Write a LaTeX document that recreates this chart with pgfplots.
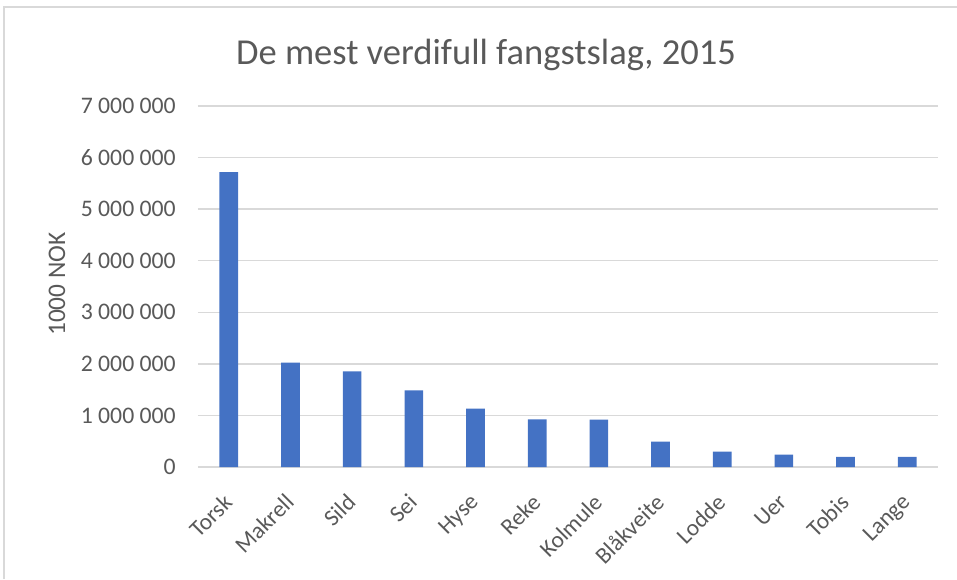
\documentclass[border=0pt]{standalone}
\usepackage{pgfplots}
\pgfplotsset{compat=1.18}
\usepackage{fontspec}
\setmainfont{Carlito}
\definecolor{barblue}{HTML}{4472C4}
\definecolor{txtgray}{HTML}{595959}
\definecolor{gridgray}{HTML}{D9D9D9}
\begin{document}
\begin{tikzpicture}
\begin{axis}[
  at={(0,0)}, anchor=south west,
  scale only axis,
  width=555pt, height=270.75pt,
  xmin=-0.5, xmax=11.5,
  ymin=0, ymax=7000000,
  ybar, bar width=14pt,
  axis line style={draw=none},
  major tick length=0pt,
  ymajorgrids,
  grid style={gridgray, line width=1pt},
  scaled y ticks=false,
  ytick={0,1000000,2000000,3000000,4000000,5000000,6000000,7000000},
  yticklabels={0,1 000 000,2 000 000,3 000 000,4 000 000,5 000 000,6 000 000,7 000 000},
  xtick={0,1,2,3,4,5,6,7,8,9,10,11},
  xticklabels={Torsk,Makrell,Sild,Sei,Hyse,Reke,Kolmule,Blåkveite,Lodde,Uer,Tobis,Lange},
  /pgf/number format/assume math mode=true,
  yticklabel style={font=\fontsize{17.8}{20}\selectfont, text=txtgray, anchor=east, inner sep=0pt, xshift=-16.5pt},
  xticklabel style={font=\fontsize{17.5}{20}\selectfont, text=txtgray, xshift=-5pt, yshift=-19pt, rotate=45, anchor=north east, inner sep=0pt},
]
\addplot[fill=barblue, draw=none] coordinates {
  (0,5720000) (1,2025000) (2,1856000) (3,1487000) (4,1132000) (5,925000)
  (6,917000) (7,490000) (8,297000) (9,238000) (10,194000) (11,194000)
};
\end{axis}
\node[anchor=base, text=txtgray, font=\fontsize{27.4}{30}\selectfont, inner sep=0pt] at (216pt,301.9pt) {De mest verdifull fangstslag, 2015};
\node[rotate=90, text=txtgray, font=\fontsize{19}{22}\selectfont, inner sep=0pt] at (-105.75pt,137.25pt) {1000 NOK};
\draw[gridgray, line width=1pt] (-145.5pt,-84pt) -- (-145.5pt,345pt) -- (569.25pt,345pt);
\pgfresetboundingbox
\useasboundingbox (-148.5pt,-84pt) rectangle (569.25pt,350.25pt);
\end{tikzpicture}
\end{document}
